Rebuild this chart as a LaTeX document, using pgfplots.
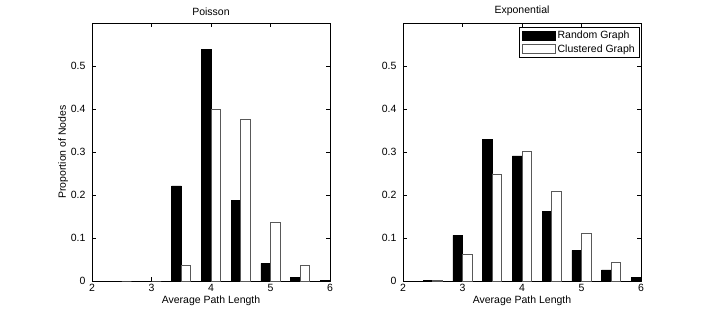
\documentclass[border=0pt]{standalone}
\usepackage{pgfplots}
\pgfplotsset{compat=1.18}
\usepackage{fontspec}
\setmainfont{Liberation Sans}
\setsansfont{Liberation Sans}

\pgfplotstableread{
x    rnd    clu
2.5  0      0
3.0  0      0
3.5  0.221  0.036
4.0  0.538  0.400
4.5  0.188  0.375
5.0  0.041  0.1375
5.5  0.009  0.037
6.0  0.002  0
}\poisson

\pgfplotstableread{
x    rnd    clu
2.5  0.002  0.001
3.0  0.106  0.062
3.5  0.329  0.249
4.0  0.291  0.302
4.5  0.162  0.209
5.0  0.071  0.110
5.5  0.026  0.0435
6.0  0.009  0
}\expo

\pgfplotsset{
  mystyle/.style={
    scale only axis,
    width=238pt, height=258pt,
    xmin=2, xmax=6, ymin=0, ymax=0.6,
    xtick={2,3,4,5,6},
    ytick={0,0.1,0.2,0.3,0.4,0.5},
    yticklabels={0,0.1,0.2,0.3,0.4,0.5},
    /pgf/number format/assume math mode=true,
    tick align=inside,
    major tick length=4pt,
    tick style={black, line width=0.5pt},
    axis line style={line width=0.6pt},
    tick label style={font=\fontsize{10.5}{12}\selectfont},
    label style={font=\fontsize{10.5}{12}\selectfont},
    title style={font=\fontsize{10.5}{12}\selectfont, yshift=-2.5pt},
    xlabel={Average Path Length},
    xlabel style={yshift=3pt},
    xticklabel style={yshift=0pt},
    yticklabel style={xshift=-3pt},
  },
  rndbar/.style={ybar, bar width=0.16, bar shift=-0.08, fill=black, draw=black, line width=0.6pt},
  clubar/.style={ybar, bar width=0.16, bar shift=0.08, fill=white, draw=black!65, line width=0.6pt},
}

\begin{document}
\begin{tikzpicture}[x=1pt,y=1pt]
\useasboundingbox (0,0) rectangle (708,317);
\begin{axis}[mystyle, at={(92pt,36pt)}, anchor=south west,
  title={Poisson},
  ylabel={Proportion of Nodes},
  ylabel style={yshift=-4pt}]
\addplot[rndbar] table[x=x,y=rnd] {\poisson};
\addplot[clubar] table[x=x,y=clu] {\poisson};
\end{axis}
\begin{axis}[mystyle, at={(403pt,36pt)}, anchor=south west,
  title={Exponential},
  legend style={at={(1,1)}, anchor=north east, xshift=-1pt, yshift=-4pt,
    font=\fontsize{10.5}{12}\selectfont, draw=black, line width=0.6pt,
    inner xsep=3pt, inner ysep=1.5pt, row sep=0.5pt},
  legend cell align=left,
  legend image code/.code={\draw[#1] (0pt,-4.5pt) rectangle (33pt,4.5pt);}]
\addplot[rndbar] table[x=x,y=rnd] {\expo};
\addlegendentry{Random Graph}
\addplot[clubar] table[x=x,y=clu] {\expo};
\addlegendentry{Clustered Graph}
\end{axis}
\end{tikzpicture}
\end{document}
